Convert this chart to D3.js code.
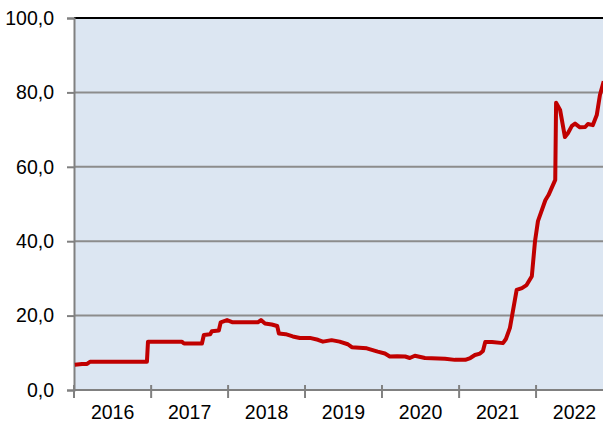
<!DOCTYPE html>
<html><head><meta charset="utf-8">
<script src="https://cdn.jsdelivr.net/npm/d3@7"></script>
<style>html,body{margin:0;padding:0;background:#fff;overflow:hidden}</style>
</head><body>
<svg id="c" width="603" height="426"></svg>
<script>
const dates = ["2016-01-05","2016-02-08","2016-03-03","2016-03-17","2016-12-12","2016-12-17","2017-05-26","2017-06-06","2017-08-30","2017-09-08","2017-10-08","2017-10-16","2017-11-18","2017-11-27","2017-12-27","2018-01-23","2018-05-22","2018-06-06","2018-06-25","2018-07-27","2018-08-22","2018-08-30","2018-10-01","2018-11-04","2018-12-07","2019-01-24","2019-03-03","2019-03-27","2019-05-07","2019-06-14","2019-07-23","2019-08-11","2019-10-21","2019-12-12","2020-01-15","2020-02-07","2020-03-13","2020-04-20","2020-05-12","2020-06-05","2020-07-23","2020-10-26","2020-12-12","2021-01-30","2021-02-23","2021-03-17","2021-04-10","2021-04-24","2021-05-05","2021-06-06","2021-07-28","2021-08-11","2021-08-30","2021-10-01","2021-10-26","2021-11-17","2021-12-12","2021-12-27","2022-01-10","2022-02-14","2022-03-01","2022-04-02","2022-04-06","2022-04-25","2022-05-18","2022-06-01","2022-06-20","2022-07-05","2022-07-28","2022-08-22","2022-09-04","2022-09-27","2022-10-16","2022-10-31","2022-11-18"];
const values = [6.8,7.0,7.0,7.6,7.6,13.0,13.0,12.5,12.5,14.8,15.0,15.8,16.0,18.2,18.8,18.2,18.2,18.8,17.9,17.6,17.2,15.2,15.0,14.4,14.0,14.0,13.5,13.0,13.4,13.0,12.3,11.5,11.2,10.3,9.8,9.0,9.1,9.0,8.6,9.2,8.6,8.4,8.1,8.1,8.6,9.4,9.8,10.5,12.9,12.9,12.6,13.7,16.7,26.9,27.4,28.2,30.6,40.0,45.4,51.0,52.4,56.5,77.2,75.3,68.0,69.0,71.0,71.6,70.6,70.7,71.5,71.2,73.9,79.3,83.0];
const yTicks = [0,20,40,60,80,100];
const years = [2016,2017,2018,2019,2020,2021,2022];

(function(){
const svg = d3.select("#c");
const L = 74, R = 613, T = 18, B = 390;
const parse = d3.timeParse("%Y-%m-%d");
const data = dates.map((d,i)=>({d:parse(d), v:values[i]}));
const x = d3.scaleTime().domain([new Date(2016,0,1), new Date(2023,0,1)]).range([L,R]);
const y = d3.scaleLinear().domain([0,100]).range([B,T]);
const font = "Arial, Liberation Sans, sans-serif";

svg.append("rect").attr("x",L).attr("y",T).attr("width",R-L).attr("height",B-T).attr("fill","#dce6f2");

svg.append("g").selectAll("line").data(yTicks.filter(t=>t>0 && t<100)).join("line")
  .attr("x1",L).attr("x2",R).attr("y1",d=>y(d)).attr("y2",d=>y(d))
  .attr("stroke","#8c8c8c").attr("stroke-width",2);

svg.append("line").attr("x1",L).attr("x2",R).attr("y1",T).attr("y2",T).attr("stroke","#000").attr("stroke-width",2);

const ya = d3.axisLeft(y).tickValues(yTicks).tickSize(7).tickPadding(13)
  .tickFormat(d=>d3.format(".1f")(d).replace(".",","));
const gy = svg.append("g").attr("transform",`translate(${L},0)`).call(ya);
gy.select(".domain").attr("stroke","#808080").attr("stroke-width",2);
gy.selectAll(".tick line").attr("stroke","#808080").attr("stroke-width",2);
gy.selectAll("text").attr("font-family",font).attr("font-size",19.5).attr("fill","#000");

const yearStarts = years.map(yr=>new Date(yr,0,1));
const ga = svg.append("g");
ga.append("line").attr("x1",L).attr("x2",R).attr("y1",B).attr("y2",B).attr("stroke","#808080").attr("stroke-width",2);
ga.selectAll("line.t").data(yearStarts).join("line").attr("class","t")
  .attr("x1",d=>x(d)).attr("x2",d=>x(d)).attr("y1",B-5).attr("y2",B+8)
  .attr("stroke","#808080").attr("stroke-width",2);
ga.selectAll("text").data(years).join("text")
  .attr("x",d=>(x(new Date(d,0,1))+x(new Date(d+1,0,1)))/2).attr("y",419)
  .attr("text-anchor","middle").attr("font-family",font).attr("font-size",19.5).attr("fill","#000")
  .text(d=>d);

svg.append("path").datum(data)
  .attr("d",d3.line().x(d=>x(d.d)).y(d=>y(d.v)))
  .attr("fill","none").attr("stroke","#c00000").attr("stroke-width",4).attr("stroke-linejoin","round");
})();
</script>
</body></html>
